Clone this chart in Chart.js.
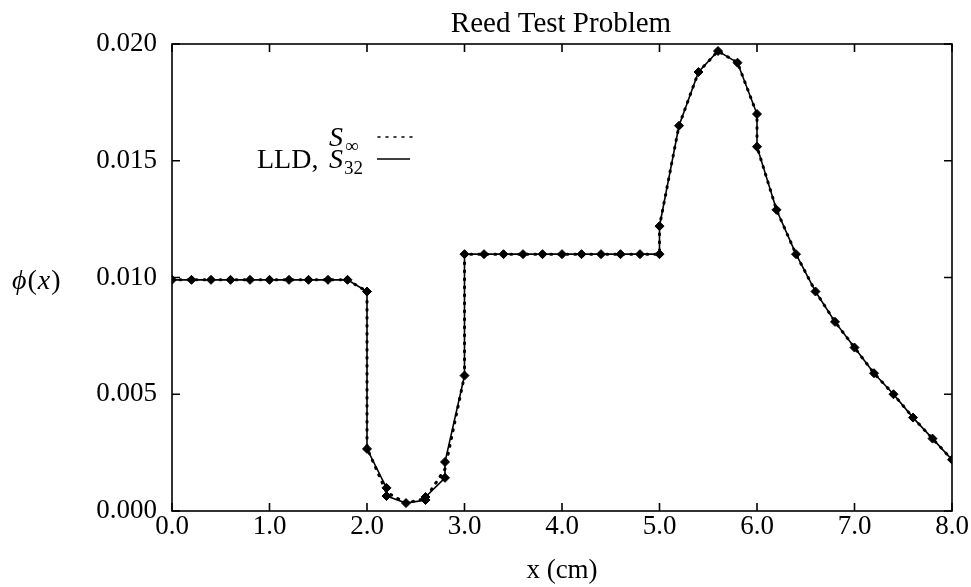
<!DOCTYPE html>
<html>
<head>
<meta charset="utf-8">
<script src="https://cdn.jsdelivr.net/npm/chart.js@4/dist/chart.umd.min.js"></script>
<style>
  html, body { margin: 0; padding: 0; background: #fff; }
  #wrap { width: 971px; height: 587px; }
</style>
</head>
<body>
<div id="wrap"><canvas id="c" width="971" height="587"></canvas></div>
<script>
// ---- data ----
const titleText = "Reed Test Problem";
const xTitle = "x (cm)";
const xTicks = [0, 1, 2, 3, 4, 5, 6, 7, 8];
const yTicks = [0, 0.005, 0.010, 0.015, 0.020];

// LLD, S32 (solid with markers)
const lldX = [0.0,0.2,0.4,0.6,0.8,1.0,1.2,1.4,1.6,1.8,
              2.0,2.0,2.2,2.2,2.4,2.6,2.6,2.8,2.8,3.0,3.0,
              3.2,3.4,3.6,3.8,4.0,4.2,4.4,4.6,4.8,5.0,5.0,
              5.2,5.4,5.6,5.8,6.0,6.0,6.2,6.4,6.6,6.8,7.0,7.2,7.4,7.6,7.8,8.0];
const lldY = [0.0099,0.0099,0.0099,0.0099,0.0099,0.0099,0.0099,0.0099,0.0099,0.0099,
              0.0094,0.00266,0.00099,0.00064,0.00034,0.00047,0.00060,0.00142,0.00210,0.0058,0.0110,
              0.0110,0.0110,0.0110,0.0110,0.0110,0.0110,0.0110,0.0110,0.0110,0.0110,0.0122,
              0.0165,0.0188,0.0197,0.0192,0.0170,0.0156,0.0129,0.0110,0.0094,0.0081,0.0070,0.0059,0.0050,0.0040,0.0031,0.0022];

// S-infinity (dotted reference)
const sinfX = [0.0,1.8,2.0,2.0,2.2,2.4,2.6,2.8,3.0,3.0,5.0,5.0,5.2,5.4,5.6,5.8,6.0,6.0,6.2,6.4,6.6,6.8,7.0,7.2,7.4,7.6,7.8,8.0];
const sinfY = [0.0099,0.0099,0.0094,0.0027,0.0008,0.00034,0.00053,0.0018,0.0058,0.0110,0.0110,0.0122,
               0.0165,0.0188,0.0197,0.0192,0.0170,0.0156,0.0129,0.0110,0.0094,0.0081,0.0070,0.0059,0.0050,0.0040,0.0031,0.0022];

const FONT = "'Liberation Serif', 'DejaVu Serif', serif";

const toPts = (xs, ys) => xs.map((x, i) => ({ x: x, y: ys[i] }));

const frame = {
  id: 'frame',
  afterDraw(chart) {
    const ctx = chart.ctx;
    const a = chart.chartArea;
    const xs = chart.scales.x, ys = chart.scales.y;
    ctx.save();
    ctx.strokeStyle = '#000';
    ctx.lineWidth = 1.6;
    ctx.strokeRect(a.left, a.top, a.right - a.left, a.bottom - a.top);
    const tl = 8;
    ctx.beginPath();
    xTicks.forEach(v => {
      const px = xs.getPixelForValue(v);
      ctx.moveTo(px, a.bottom); ctx.lineTo(px, a.bottom - tl);
      ctx.moveTo(px, a.top); ctx.lineTo(px, a.top + tl);
    });
    yTicks.forEach(v => {
      const py = ys.getPixelForValue(v);
      ctx.moveTo(a.left, py); ctx.lineTo(a.left + tl, py);
      ctx.moveTo(a.right, py); ctx.lineTo(a.right - tl, py);
    });
    ctx.stroke();

    ctx.fillStyle = '#000';
    // title
    ctx.font = "29px " + FONT;
    ctx.textAlign = 'center';
    ctx.textBaseline = 'alphabetic';
    ctx.fillText(titleText, 561, 32);
    // x title
    ctx.font = "27px " + FONT;
    ctx.fillText(xTitle, 562, 578);
    // y title: phi(x)
    ctx.textAlign = 'left';
    ctx.textBaseline = 'alphabetic';
    let px = 12;
    const base = 289;
    const parts = [["italic 28px ", "\u03D5"], ["28px ", "("], ["italic 28px ", "x"], ["28px ", ")"]];
    parts.forEach(p => {
      ctx.font = p[0] + FONT;
      ctx.fillText(p[1], px, base);
      px += ctx.measureText(p[1]).width + 1;
    });

    // legend
    ctx.font = "28px " + FONT;
    ctx.fillText("LLD,", 257, 168);
    ctx.font = "italic 28px " + FONT;
    ctx.fillText("S", 329, 146);
    ctx.fillText("S", 329, 168);
    ctx.font = "19px " + FONT;
    ctx.fillText("\u221E", 345, 152);
    ctx.fillText("32", 344, 174);
    ctx.lineWidth = 1.5;
    ctx.setLineDash([2, 6]);
    ctx.lineCap = 'round';
    ctx.beginPath(); ctx.moveTo(378, 137); ctx.lineTo(412, 137); ctx.stroke();
    ctx.setLineDash([]);
    ctx.lineCap = 'butt';
    ctx.beginPath(); ctx.moveTo(377, 159); ctx.lineTo(410, 159); ctx.stroke();
    ctx.restore();
  }
};

new Chart(document.getElementById('c'), {
  type: 'scatter',
  data: {
    datasets: [
      {
        label: 'LLD, S32',
        data: toPts(lldX, lldY),
        showLine: true,
        borderColor: '#000',
        backgroundColor: '#000',
        borderWidth: 1.6,
        pointStyle: 'rectRot',
        pointRadius: 4.5,
        pointBorderWidth: 1,
        tension: 0,
        order: 2
      },
      {
        label: 'S\u221E',
        data: toPts(sinfX, sinfY),
        showLine: true,
        borderColor: '#000',
        backgroundColor: '#000',
        borderWidth: 3,
        borderDash: [1, 7],
        borderCapStyle: 'round',
        pointRadius: 0,
        tension: 0,
        order: 1
      }
    ]
  },
  options: {
    responsive: false,
    animation: false,
    events: [],
    layout: { padding: { top: 44, right: 19, left: 0, bottom: 0 } },
    plugins: {
      legend: { display: false },
      title: { display: false },
      tooltip: { enabled: false }
    },
    scales: {
      x: {
        type: 'linear',
        min: 0, max: 8,
        afterFit: s => { s.height = 76; },
        afterBuildTicks: s => { s.ticks = xTicks.map(v => ({ value: v })); },
        grid: { display: false, drawTicks: false },
        border: { display: false },
        ticks: {
          color: '#000',
          padding: 0,
          maxRotation: 0,
          font: { family: FONT, size: 27 },
          callback: v => Number(v).toFixed(1)
        }
      },
      y: {
        type: 'linear',
        min: 0, max: 0.02,
        afterFit: s => { s.width = 172; },
        afterBuildTicks: s => { s.ticks = yTicks.map(v => ({ value: v })); },
        grid: { display: false, drawTicks: false },
        border: { display: false },
        ticks: {
          color: '#000',
          padding: 15,
          font: { family: FONT, size: 27 },
          callback: v => Number(v).toFixed(3)
        }
      }
    }
  },
  plugins: [frame]
});
</script>
</body>
</html>
